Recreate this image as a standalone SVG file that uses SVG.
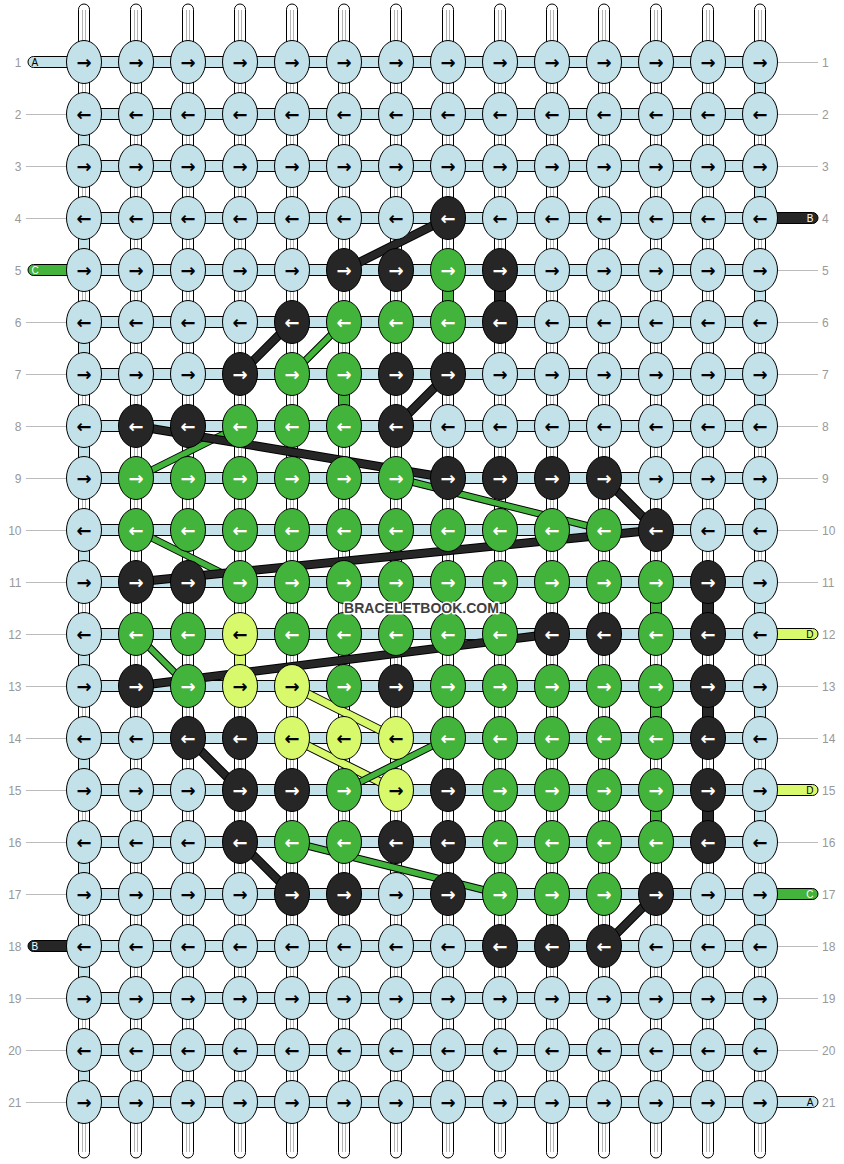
<svg xmlns="http://www.w3.org/2000/svg" width="844" height="1164" viewBox="0 0 844 1164">
<style>
.w{fill:#fff;stroke:#000;stroke-width:1}
.wl{stroke:#b4b4b4;stroke-width:1;fill:none}
.h{fill:#c3e1e8;stroke:#000;stroke-width:1}
.gl{stroke:#bbb;stroke-width:1}
.lbl{font-family:"Liberation Sans",Arial,sans-serif;font-size:12px;fill:#999}
.sl{font-family:"Liberation Sans",Arial,sans-serif;font-size:10px}
.n text{font-family:"DejaVu Sans",sans-serif;font-weight:bold;font-size:18px;text-anchor:middle;dominant-baseline:central}
.n ellipse{stroke:#000;stroke-width:1}
.L ellipse,.bL{fill:#c3e1e8}.L text{fill:#000}
.K ellipse,.bK{fill:#262626}.K text{fill:#fff}
.G ellipse,.bG{fill:#42b33b}.G text{fill:#fff}
.Y ellipse,.bY{fill:#d8f96b}.Y text{fill:#000}
.br rect{stroke:#000;stroke-width:1}
.co{fill:none;stroke-linecap:butt}
</style>
<g id="warps">
<rect class="w" x="78.5" y="4" width="11" height="1154" rx="5.5"/>
<rect class="w" x="130.5" y="4" width="11" height="1154" rx="5.5"/>
<rect class="w" x="182.5" y="4" width="11" height="1154" rx="5.5"/>
<rect class="w" x="234.5" y="4" width="11" height="1154" rx="5.5"/>
<rect class="w" x="286.5" y="4" width="11" height="1154" rx="5.5"/>
<rect class="w" x="338.5" y="4" width="11" height="1154" rx="5.5"/>
<rect class="w" x="390.5" y="4" width="11" height="1154" rx="5.5"/>
<rect class="w" x="442.5" y="4" width="11" height="1154" rx="5.5"/>
<rect class="w" x="494.5" y="4" width="11" height="1154" rx="5.5"/>
<rect class="w" x="546.5" y="4" width="11" height="1154" rx="5.5"/>
<rect class="w" x="598.5" y="4" width="11" height="1154" rx="5.5"/>
<rect class="w" x="650.5" y="4" width="11" height="1154" rx="5.5"/>
<rect class="w" x="702.5" y="4" width="11" height="1154" rx="5.5"/>
<rect class="w" x="754.5" y="4" width="11" height="1154" rx="5.5"/>
<path class="wl" d="M82.5 10V1152M85.5 10V1152M134.5 10V1152M137.5 10V1152M186.5 10V1152M189.5 10V1152M238.5 10V1152M241.5 10V1152M290.5 10V1152M293.5 10V1152M342.5 10V1152M345.5 10V1152M394.5 10V1152M397.5 10V1152M446.5 10V1152M449.5 10V1152M498.5 10V1152M501.5 10V1152M550.5 10V1152M553.5 10V1152M602.5 10V1152M605.5 10V1152M654.5 10V1152M657.5 10V1152M706.5 10V1152M709.5 10V1152M758.5 10V1152M761.5 10V1152"/>
</g>
<g id="rows">
<rect class="h" x="84" y="56.5" width="676" height="11"/>
<rect class="h" x="84" y="108.5" width="676" height="11"/>
<rect class="h" x="84" y="160.5" width="676" height="11"/>
<rect class="h" x="84" y="212.5" width="676" height="11"/>
<rect class="h" x="84" y="264.5" width="676" height="11"/>
<rect class="h" x="84" y="316.5" width="676" height="11"/>
<rect class="h" x="84" y="368.5" width="676" height="11"/>
<rect class="h" x="84" y="420.5" width="676" height="11"/>
<rect class="h" x="84" y="472.5" width="676" height="11"/>
<rect class="h" x="84" y="524.5" width="676" height="11"/>
<rect class="h" x="84" y="576.5" width="676" height="11"/>
<rect class="h" x="84" y="628.5" width="676" height="11"/>
<rect class="h" x="84" y="680.5" width="676" height="11"/>
<rect class="h" x="84" y="732.5" width="676" height="11"/>
<rect class="h" x="84" y="784.5" width="676" height="11"/>
<rect class="h" x="84" y="836.5" width="676" height="11"/>
<rect class="h" x="84" y="888.5" width="676" height="11"/>
<rect class="h" x="84" y="940.5" width="676" height="11"/>
<rect class="h" x="84" y="992.5" width="676" height="11"/>
<rect class="h" x="84" y="1044.5" width="676" height="11"/>
<rect class="h" x="84" y="1096.5" width="676" height="11"/>
</g>
<g id="labels">
<path class="gl" d="M26 114.5H66M26 166.5H66M26 218.5H66M26 322.5H66M26 374.5H66M26 426.5H66M26 478.5H66M26 530.5H66M26 582.5H66M26 634.5H66M26 686.5H66M26 738.5H66M26 790.5H66M26 842.5H66M26 894.5H66M26 998.5H66M26 1050.5H66M26 1102.5H66"/>
<path class="gl" d="M778 62.5H818M778 114.5H818M778 166.5H818M778 270.5H818M778 322.5H818M778 374.5H818M778 426.5H818M778 478.5H818M778 530.5H818M778 582.5H818M778 686.5H818M778 738.5H818M778 842.5H818M778 946.5H818M778 998.5H818M778 1050.5H818"/>
<g class="lbl" text-anchor="end">
<text x="21.5" y="66.5">1</text><text x="21.5" y="118.5">2</text><text x="21.5" y="170.5">3</text><text x="21.5" y="222.5">4</text><text x="21.5" y="274.5">5</text><text x="21.5" y="326.5">6</text><text x="21.5" y="378.5">7</text><text x="21.5" y="430.5">8</text><text x="21.5" y="482.5">9</text><text x="21.5" y="534.5">10</text><text x="21.5" y="586.5">11</text><text x="21.5" y="638.5">12</text><text x="21.5" y="690.5">13</text><text x="21.5" y="742.5">14</text><text x="21.5" y="794.5">15</text><text x="21.5" y="846.5">16</text><text x="21.5" y="898.5">17</text><text x="21.5" y="950.5">18</text><text x="21.5" y="1002.5">19</text><text x="21.5" y="1054.5">20</text><text x="21.5" y="1106.5">21</text>
</g>
<g class="lbl">
<text x="822" y="66.5">1</text><text x="822" y="118.5">2</text><text x="822" y="170.5">3</text><text x="822" y="222.5">4</text><text x="822" y="274.5">5</text><text x="822" y="326.5">6</text><text x="822" y="378.5">7</text><text x="822" y="430.5">8</text><text x="822" y="482.5">9</text><text x="822" y="534.5">10</text><text x="822" y="586.5">11</text><text x="822" y="638.5">12</text><text x="822" y="690.5">13</text><text x="822" y="742.5">14</text><text x="822" y="794.5">15</text><text x="822" y="846.5">16</text><text x="822" y="898.5">17</text><text x="822" y="950.5">18</text><text x="822" y="1002.5">19</text><text x="822" y="1054.5">20</text><text x="822" y="1106.5">21</text>
</g>
</g>
<g id="stubs">
<g id="stubA1"><path class="bL" stroke="#000" d="M68 56.5H33.5A5.5 5.5 0 0 0 33.5 67.5H68Z"/><text class="sl" x="31.5" y="65.5" fill="#000">A</text></g>
<g id="stubC1"><path class="bG" stroke="#000" d="M68 264.5H33.5A5.5 5.5 0 0 0 33.5 275.5H68Z"/><text class="sl" x="31.5" y="273.5" fill="#fff">C</text></g>
<g id="stubB2"><path class="bK" stroke="#000" d="M68 940.5H33.5A5.5 5.5 0 0 0 33.5 951.5H68Z"/><text class="sl" x="31.5" y="949.5" fill="#fff">B</text></g>
<g id="stubB1"><path class="bK" stroke="#000" d="M776 212.5H812.5A5.5 5.5 0 0 1 812.5 223.5H776Z"/><text class="sl" x="813.5" y="221.5" fill="#fff" text-anchor="end">B</text></g>
<g id="stubD1"><path class="bY" stroke="#000" d="M776 628.5H812.5A5.5 5.5 0 0 1 812.5 639.5H776Z"/><text class="sl" x="813.5" y="637.5" fill="#000" text-anchor="end">D</text></g>
<g id="stubD2"><path class="bY" stroke="#000" d="M776 784.5H812.5A5.5 5.5 0 0 1 812.5 795.5H776Z"/><text class="sl" x="813.5" y="793.5" fill="#000" text-anchor="end">D</text></g>
<g id="stubC2"><path class="bG" stroke="#000" d="M776 888.5H812.5A5.5 5.5 0 0 1 812.5 899.5H776Z"/><text class="sl" x="813.5" y="897.5" fill="#fff" text-anchor="end">C</text></g>
<g id="stubA2"><path class="bL" stroke="#000" d="M776 1096.5H812.5A5.5 5.5 0 0 1 812.5 1107.5H776Z"/><text class="sl" x="813.5" y="1105.5" fill="#000" text-anchor="end">A</text></g>
</g>
<g id="connectors">
<g class="br">
<rect class="bL" x="754.5" y="77" width="11" height="22"/><rect class="bL" x="754.5" y="181" width="11" height="22"/><rect class="bL" x="754.5" y="285" width="11" height="22"/><rect class="bL" x="754.5" y="389" width="11" height="22"/><rect class="bL" x="754.5" y="493" width="11" height="22"/><rect class="bL" x="754.5" y="597" width="11" height="22"/><rect class="bL" x="754.5" y="701" width="11" height="22"/><rect class="bL" x="754.5" y="805" width="11" height="22"/><rect class="bL" x="754.5" y="909" width="11" height="22"/><rect class="bL" x="754.5" y="1013" width="11" height="22"/>
<rect class="bL" x="78.5" y="129" width="11" height="22"/><rect class="bL" x="78.5" y="233" width="11" height="22"/><rect class="bL" x="78.5" y="337" width="11" height="22"/><rect class="bL" x="78.5" y="441" width="11" height="22"/><rect class="bL" x="78.5" y="545" width="11" height="22"/><rect class="bL" x="78.5" y="649" width="11" height="22"/><rect class="bL" x="78.5" y="753" width="11" height="22"/><rect class="bL" x="78.5" y="857" width="11" height="22"/><rect class="bL" x="78.5" y="961" width="11" height="22"/><rect class="bL" x="78.5" y="1065" width="11" height="22"/>
<rect class="bK" x="494.5" y="285" width="11" height="22"/><rect class="bK" x="702.5" y="597" width="11" height="22"/><rect class="bK" x="702.5" y="701" width="11" height="22"/><rect class="bK" x="702.5" y="805" width="11" height="22"/>
<rect class="bG" x="442.5" y="285" width="11" height="22"/><rect class="bG" x="338.5" y="389" width="11" height="22"/><rect class="bG" x="650.5" y="597" width="11" height="22"/><rect class="bG" x="650.5" y="701" width="11" height="22"/><rect class="bG" x="650.5" y="805" width="11" height="22"/>
<rect class="bY" x="234.5" y="649" width="11" height="22"/>
</g>
<path class="co" stroke="#000" stroke-width="9" d="M292 686L396 738M292 738L396 790"/>
<path class="co" stroke="#d8f96b" stroke-width="7" d="M292 686L396 738M292 738L396 790"/>
<path class="co" stroke="#000" stroke-width="7.5" d="M344 322L292 374M240 426L136 478M396 478L604 530M136 530L240 582M136 634L188 686M448 738L344 790M292 842L500 894"/>
<path class="co" stroke="#42b33b" stroke-width="5.5" d="M344 322L292 374M240 426L136 478M396 478L604 530M136 530L240 582M136 634L188 686M448 738L344 790M292 842L500 894"/>
<path class="co" stroke="#000" stroke-width="9" d="M448 218L344 270M292 322L240 374M448 374L396 426M136 426L448 478M604 478L656 530M656 530L136 582M552 634L136 686M188 738L240 790M240 842L292 894M656 894L604 946"/>
<path class="co" stroke="#262626" stroke-width="7" d="M448 218L344 270M292 322L240 374M448 374L396 426M136 426L448 478M604 478L656 530M656 530L136 582M552 634L136 686M188 738L240 790M240 842L292 894M656 894L604 946"/>
</g>
<g id="knots">
<g id="n1-1" class="n L" transform="translate(84 62)"><ellipse rx="17.5" ry="21.5"/><text>→</text></g>
<g id="n1-2" class="n L" transform="translate(136 62)"><ellipse rx="17.5" ry="21.5"/><text>→</text></g>
<g id="n1-3" class="n L" transform="translate(188 62)"><ellipse rx="17.5" ry="21.5"/><text>→</text></g>
<g id="n1-4" class="n L" transform="translate(240 62)"><ellipse rx="17.5" ry="21.5"/><text>→</text></g>
<g id="n1-5" class="n L" transform="translate(292 62)"><ellipse rx="17.5" ry="21.5"/><text>→</text></g>
<g id="n1-6" class="n L" transform="translate(344 62)"><ellipse rx="17.5" ry="21.5"/><text>→</text></g>
<g id="n1-7" class="n L" transform="translate(396 62)"><ellipse rx="17.5" ry="21.5"/><text>→</text></g>
<g id="n1-8" class="n L" transform="translate(448 62)"><ellipse rx="17.5" ry="21.5"/><text>→</text></g>
<g id="n1-9" class="n L" transform="translate(500 62)"><ellipse rx="17.5" ry="21.5"/><text>→</text></g>
<g id="n1-10" class="n L" transform="translate(552 62)"><ellipse rx="17.5" ry="21.5"/><text>→</text></g>
<g id="n1-11" class="n L" transform="translate(604 62)"><ellipse rx="17.5" ry="21.5"/><text>→</text></g>
<g id="n1-12" class="n L" transform="translate(656 62)"><ellipse rx="17.5" ry="21.5"/><text>→</text></g>
<g id="n1-13" class="n L" transform="translate(708 62)"><ellipse rx="17.5" ry="21.5"/><text>→</text></g>
<g id="n1-14" class="n L" transform="translate(760 62)"><ellipse rx="17.5" ry="21.5"/><text>→</text></g>
<g id="n2-1" class="n L" transform="translate(84 114)"><ellipse rx="17.5" ry="21.5"/><text>←</text></g>
<g id="n2-2" class="n L" transform="translate(136 114)"><ellipse rx="17.5" ry="21.5"/><text>←</text></g>
<g id="n2-3" class="n L" transform="translate(188 114)"><ellipse rx="17.5" ry="21.5"/><text>←</text></g>
<g id="n2-4" class="n L" transform="translate(240 114)"><ellipse rx="17.5" ry="21.5"/><text>←</text></g>
<g id="n2-5" class="n L" transform="translate(292 114)"><ellipse rx="17.5" ry="21.5"/><text>←</text></g>
<g id="n2-6" class="n L" transform="translate(344 114)"><ellipse rx="17.5" ry="21.5"/><text>←</text></g>
<g id="n2-7" class="n L" transform="translate(396 114)"><ellipse rx="17.5" ry="21.5"/><text>←</text></g>
<g id="n2-8" class="n L" transform="translate(448 114)"><ellipse rx="17.5" ry="21.5"/><text>←</text></g>
<g id="n2-9" class="n L" transform="translate(500 114)"><ellipse rx="17.5" ry="21.5"/><text>←</text></g>
<g id="n2-10" class="n L" transform="translate(552 114)"><ellipse rx="17.5" ry="21.5"/><text>←</text></g>
<g id="n2-11" class="n L" transform="translate(604 114)"><ellipse rx="17.5" ry="21.5"/><text>←</text></g>
<g id="n2-12" class="n L" transform="translate(656 114)"><ellipse rx="17.5" ry="21.5"/><text>←</text></g>
<g id="n2-13" class="n L" transform="translate(708 114)"><ellipse rx="17.5" ry="21.5"/><text>←</text></g>
<g id="n2-14" class="n L" transform="translate(760 114)"><ellipse rx="17.5" ry="21.5"/><text>←</text></g>
<g id="n3-1" class="n L" transform="translate(84 166)"><ellipse rx="17.5" ry="21.5"/><text>→</text></g>
<g id="n3-2" class="n L" transform="translate(136 166)"><ellipse rx="17.5" ry="21.5"/><text>→</text></g>
<g id="n3-3" class="n L" transform="translate(188 166)"><ellipse rx="17.5" ry="21.5"/><text>→</text></g>
<g id="n3-4" class="n L" transform="translate(240 166)"><ellipse rx="17.5" ry="21.5"/><text>→</text></g>
<g id="n3-5" class="n L" transform="translate(292 166)"><ellipse rx="17.5" ry="21.5"/><text>→</text></g>
<g id="n3-6" class="n L" transform="translate(344 166)"><ellipse rx="17.5" ry="21.5"/><text>→</text></g>
<g id="n3-7" class="n L" transform="translate(396 166)"><ellipse rx="17.5" ry="21.5"/><text>→</text></g>
<g id="n3-8" class="n L" transform="translate(448 166)"><ellipse rx="17.5" ry="21.5"/><text>→</text></g>
<g id="n3-9" class="n L" transform="translate(500 166)"><ellipse rx="17.5" ry="21.5"/><text>→</text></g>
<g id="n3-10" class="n L" transform="translate(552 166)"><ellipse rx="17.5" ry="21.5"/><text>→</text></g>
<g id="n3-11" class="n L" transform="translate(604 166)"><ellipse rx="17.5" ry="21.5"/><text>→</text></g>
<g id="n3-12" class="n L" transform="translate(656 166)"><ellipse rx="17.5" ry="21.5"/><text>→</text></g>
<g id="n3-13" class="n L" transform="translate(708 166)"><ellipse rx="17.5" ry="21.5"/><text>→</text></g>
<g id="n3-14" class="n L" transform="translate(760 166)"><ellipse rx="17.5" ry="21.5"/><text>→</text></g>
<g id="n4-1" class="n L" transform="translate(84 218)"><ellipse rx="17.5" ry="21.5"/><text>←</text></g>
<g id="n4-2" class="n L" transform="translate(136 218)"><ellipse rx="17.5" ry="21.5"/><text>←</text></g>
<g id="n4-3" class="n L" transform="translate(188 218)"><ellipse rx="17.5" ry="21.5"/><text>←</text></g>
<g id="n4-4" class="n L" transform="translate(240 218)"><ellipse rx="17.5" ry="21.5"/><text>←</text></g>
<g id="n4-5" class="n L" transform="translate(292 218)"><ellipse rx="17.5" ry="21.5"/><text>←</text></g>
<g id="n4-6" class="n L" transform="translate(344 218)"><ellipse rx="17.5" ry="21.5"/><text>←</text></g>
<g id="n4-7" class="n L" transform="translate(396 218)"><ellipse rx="17.5" ry="21.5"/><text>←</text></g>
<g id="n4-8" class="n K" transform="translate(448 218)"><ellipse rx="17.5" ry="21.5"/><text>←</text></g>
<g id="n4-9" class="n L" transform="translate(500 218)"><ellipse rx="17.5" ry="21.5"/><text>←</text></g>
<g id="n4-10" class="n L" transform="translate(552 218)"><ellipse rx="17.5" ry="21.5"/><text>←</text></g>
<g id="n4-11" class="n L" transform="translate(604 218)"><ellipse rx="17.5" ry="21.5"/><text>←</text></g>
<g id="n4-12" class="n L" transform="translate(656 218)"><ellipse rx="17.5" ry="21.5"/><text>←</text></g>
<g id="n4-13" class="n L" transform="translate(708 218)"><ellipse rx="17.5" ry="21.5"/><text>←</text></g>
<g id="n4-14" class="n L" transform="translate(760 218)"><ellipse rx="17.5" ry="21.5"/><text>←</text></g>
<g id="n5-1" class="n L" transform="translate(84 270)"><ellipse rx="17.5" ry="21.5"/><text>→</text></g>
<g id="n5-2" class="n L" transform="translate(136 270)"><ellipse rx="17.5" ry="21.5"/><text>→</text></g>
<g id="n5-3" class="n L" transform="translate(188 270)"><ellipse rx="17.5" ry="21.5"/><text>→</text></g>
<g id="n5-4" class="n L" transform="translate(240 270)"><ellipse rx="17.5" ry="21.5"/><text>→</text></g>
<g id="n5-5" class="n L" transform="translate(292 270)"><ellipse rx="17.5" ry="21.5"/><text>→</text></g>
<g id="n5-6" class="n K" transform="translate(344 270)"><ellipse rx="17.5" ry="21.5"/><text>→</text></g>
<g id="n5-7" class="n K" transform="translate(396 270)"><ellipse rx="17.5" ry="21.5"/><text>→</text></g>
<g id="n5-8" class="n G" transform="translate(448 270)"><ellipse rx="17.5" ry="21.5"/><text>→</text></g>
<g id="n5-9" class="n K" transform="translate(500 270)"><ellipse rx="17.5" ry="21.5"/><text>→</text></g>
<g id="n5-10" class="n L" transform="translate(552 270)"><ellipse rx="17.5" ry="21.5"/><text>→</text></g>
<g id="n5-11" class="n L" transform="translate(604 270)"><ellipse rx="17.5" ry="21.5"/><text>→</text></g>
<g id="n5-12" class="n L" transform="translate(656 270)"><ellipse rx="17.5" ry="21.5"/><text>→</text></g>
<g id="n5-13" class="n L" transform="translate(708 270)"><ellipse rx="17.5" ry="21.5"/><text>→</text></g>
<g id="n5-14" class="n L" transform="translate(760 270)"><ellipse rx="17.5" ry="21.5"/><text>→</text></g>
<g id="n6-1" class="n L" transform="translate(84 322)"><ellipse rx="17.5" ry="21.5"/><text>←</text></g>
<g id="n6-2" class="n L" transform="translate(136 322)"><ellipse rx="17.5" ry="21.5"/><text>←</text></g>
<g id="n6-3" class="n L" transform="translate(188 322)"><ellipse rx="17.5" ry="21.5"/><text>←</text></g>
<g id="n6-4" class="n L" transform="translate(240 322)"><ellipse rx="17.5" ry="21.5"/><text>←</text></g>
<g id="n6-5" class="n K" transform="translate(292 322)"><ellipse rx="17.5" ry="21.5"/><text>←</text></g>
<g id="n6-6" class="n G" transform="translate(344 322)"><ellipse rx="17.5" ry="21.5"/><text>←</text></g>
<g id="n6-7" class="n G" transform="translate(396 322)"><ellipse rx="17.5" ry="21.5"/><text>←</text></g>
<g id="n6-8" class="n G" transform="translate(448 322)"><ellipse rx="17.5" ry="21.5"/><text>←</text></g>
<g id="n6-9" class="n K" transform="translate(500 322)"><ellipse rx="17.5" ry="21.5"/><text>←</text></g>
<g id="n6-10" class="n L" transform="translate(552 322)"><ellipse rx="17.5" ry="21.5"/><text>←</text></g>
<g id="n6-11" class="n L" transform="translate(604 322)"><ellipse rx="17.5" ry="21.5"/><text>←</text></g>
<g id="n6-12" class="n L" transform="translate(656 322)"><ellipse rx="17.5" ry="21.5"/><text>←</text></g>
<g id="n6-13" class="n L" transform="translate(708 322)"><ellipse rx="17.5" ry="21.5"/><text>←</text></g>
<g id="n6-14" class="n L" transform="translate(760 322)"><ellipse rx="17.5" ry="21.5"/><text>←</text></g>
<g id="n7-1" class="n L" transform="translate(84 374)"><ellipse rx="17.5" ry="21.5"/><text>→</text></g>
<g id="n7-2" class="n L" transform="translate(136 374)"><ellipse rx="17.5" ry="21.5"/><text>→</text></g>
<g id="n7-3" class="n L" transform="translate(188 374)"><ellipse rx="17.5" ry="21.5"/><text>→</text></g>
<g id="n7-4" class="n K" transform="translate(240 374)"><ellipse rx="17.5" ry="21.5"/><text>→</text></g>
<g id="n7-5" class="n G" transform="translate(292 374)"><ellipse rx="17.5" ry="21.5"/><text>→</text></g>
<g id="n7-6" class="n G" transform="translate(344 374)"><ellipse rx="17.5" ry="21.5"/><text>→</text></g>
<g id="n7-7" class="n K" transform="translate(396 374)"><ellipse rx="17.5" ry="21.5"/><text>→</text></g>
<g id="n7-8" class="n K" transform="translate(448 374)"><ellipse rx="17.5" ry="21.5"/><text>→</text></g>
<g id="n7-9" class="n L" transform="translate(500 374)"><ellipse rx="17.5" ry="21.5"/><text>→</text></g>
<g id="n7-10" class="n L" transform="translate(552 374)"><ellipse rx="17.5" ry="21.5"/><text>→</text></g>
<g id="n7-11" class="n L" transform="translate(604 374)"><ellipse rx="17.5" ry="21.5"/><text>→</text></g>
<g id="n7-12" class="n L" transform="translate(656 374)"><ellipse rx="17.5" ry="21.5"/><text>→</text></g>
<g id="n7-13" class="n L" transform="translate(708 374)"><ellipse rx="17.5" ry="21.5"/><text>→</text></g>
<g id="n7-14" class="n L" transform="translate(760 374)"><ellipse rx="17.5" ry="21.5"/><text>→</text></g>
<g id="n8-1" class="n L" transform="translate(84 426)"><ellipse rx="17.5" ry="21.5"/><text>←</text></g>
<g id="n8-2" class="n K" transform="translate(136 426)"><ellipse rx="17.5" ry="21.5"/><text>←</text></g>
<g id="n8-3" class="n K" transform="translate(188 426)"><ellipse rx="17.5" ry="21.5"/><text>←</text></g>
<g id="n8-4" class="n G" transform="translate(240 426)"><ellipse rx="17.5" ry="21.5"/><text>←</text></g>
<g id="n8-5" class="n G" transform="translate(292 426)"><ellipse rx="17.5" ry="21.5"/><text>←</text></g>
<g id="n8-6" class="n G" transform="translate(344 426)"><ellipse rx="17.5" ry="21.5"/><text>←</text></g>
<g id="n8-7" class="n K" transform="translate(396 426)"><ellipse rx="17.5" ry="21.5"/><text>←</text></g>
<g id="n8-8" class="n L" transform="translate(448 426)"><ellipse rx="17.5" ry="21.5"/><text>←</text></g>
<g id="n8-9" class="n L" transform="translate(500 426)"><ellipse rx="17.5" ry="21.5"/><text>←</text></g>
<g id="n8-10" class="n L" transform="translate(552 426)"><ellipse rx="17.5" ry="21.5"/><text>←</text></g>
<g id="n8-11" class="n L" transform="translate(604 426)"><ellipse rx="17.5" ry="21.5"/><text>←</text></g>
<g id="n8-12" class="n L" transform="translate(656 426)"><ellipse rx="17.5" ry="21.5"/><text>←</text></g>
<g id="n8-13" class="n L" transform="translate(708 426)"><ellipse rx="17.5" ry="21.5"/><text>←</text></g>
<g id="n8-14" class="n L" transform="translate(760 426)"><ellipse rx="17.5" ry="21.5"/><text>←</text></g>
<g id="n9-1" class="n L" transform="translate(84 478)"><ellipse rx="17.5" ry="21.5"/><text>→</text></g>
<g id="n9-2" class="n G" transform="translate(136 478)"><ellipse rx="17.5" ry="21.5"/><text>→</text></g>
<g id="n9-3" class="n G" transform="translate(188 478)"><ellipse rx="17.5" ry="21.5"/><text>→</text></g>
<g id="n9-4" class="n G" transform="translate(240 478)"><ellipse rx="17.5" ry="21.5"/><text>→</text></g>
<g id="n9-5" class="n G" transform="translate(292 478)"><ellipse rx="17.5" ry="21.5"/><text>→</text></g>
<g id="n9-6" class="n G" transform="translate(344 478)"><ellipse rx="17.5" ry="21.5"/><text>→</text></g>
<g id="n9-7" class="n G" transform="translate(396 478)"><ellipse rx="17.5" ry="21.5"/><text>→</text></g>
<g id="n9-8" class="n K" transform="translate(448 478)"><ellipse rx="17.5" ry="21.5"/><text>→</text></g>
<g id="n9-9" class="n K" transform="translate(500 478)"><ellipse rx="17.5" ry="21.5"/><text>→</text></g>
<g id="n9-10" class="n K" transform="translate(552 478)"><ellipse rx="17.5" ry="21.5"/><text>→</text></g>
<g id="n9-11" class="n K" transform="translate(604 478)"><ellipse rx="17.5" ry="21.5"/><text>→</text></g>
<g id="n9-12" class="n L" transform="translate(656 478)"><ellipse rx="17.5" ry="21.5"/><text>→</text></g>
<g id="n9-13" class="n L" transform="translate(708 478)"><ellipse rx="17.5" ry="21.5"/><text>→</text></g>
<g id="n9-14" class="n L" transform="translate(760 478)"><ellipse rx="17.5" ry="21.5"/><text>→</text></g>
<g id="n10-1" class="n L" transform="translate(84 530)"><ellipse rx="17.5" ry="21.5"/><text>←</text></g>
<g id="n10-2" class="n G" transform="translate(136 530)"><ellipse rx="17.5" ry="21.5"/><text>←</text></g>
<g id="n10-3" class="n G" transform="translate(188 530)"><ellipse rx="17.5" ry="21.5"/><text>←</text></g>
<g id="n10-4" class="n G" transform="translate(240 530)"><ellipse rx="17.5" ry="21.5"/><text>←</text></g>
<g id="n10-5" class="n G" transform="translate(292 530)"><ellipse rx="17.5" ry="21.5"/><text>←</text></g>
<g id="n10-6" class="n G" transform="translate(344 530)"><ellipse rx="17.5" ry="21.5"/><text>←</text></g>
<g id="n10-7" class="n G" transform="translate(396 530)"><ellipse rx="17.5" ry="21.5"/><text>←</text></g>
<g id="n10-8" class="n G" transform="translate(448 530)"><ellipse rx="17.5" ry="21.5"/><text>←</text></g>
<g id="n10-9" class="n G" transform="translate(500 530)"><ellipse rx="17.5" ry="21.5"/><text>←</text></g>
<g id="n10-10" class="n G" transform="translate(552 530)"><ellipse rx="17.5" ry="21.5"/><text>←</text></g>
<g id="n10-11" class="n G" transform="translate(604 530)"><ellipse rx="17.5" ry="21.5"/><text>←</text></g>
<g id="n10-12" class="n K" transform="translate(656 530)"><ellipse rx="17.5" ry="21.5"/><text>←</text></g>
<g id="n10-13" class="n L" transform="translate(708 530)"><ellipse rx="17.5" ry="21.5"/><text>←</text></g>
<g id="n10-14" class="n L" transform="translate(760 530)"><ellipse rx="17.5" ry="21.5"/><text>←</text></g>
<g id="n11-1" class="n L" transform="translate(84 582)"><ellipse rx="17.5" ry="21.5"/><text>→</text></g>
<g id="n11-2" class="n K" transform="translate(136 582)"><ellipse rx="17.5" ry="21.5"/><text>→</text></g>
<g id="n11-3" class="n K" transform="translate(188 582)"><ellipse rx="17.5" ry="21.5"/><text>→</text></g>
<g id="n11-4" class="n G" transform="translate(240 582)"><ellipse rx="17.5" ry="21.5"/><text>→</text></g>
<g id="n11-5" class="n G" transform="translate(292 582)"><ellipse rx="17.5" ry="21.5"/><text>→</text></g>
<g id="n11-6" class="n G" transform="translate(344 582)"><ellipse rx="17.5" ry="21.5"/><text>→</text></g>
<g id="n11-7" class="n G" transform="translate(396 582)"><ellipse rx="17.5" ry="21.5"/><text>→</text></g>
<g id="n11-8" class="n G" transform="translate(448 582)"><ellipse rx="17.5" ry="21.5"/><text>→</text></g>
<g id="n11-9" class="n G" transform="translate(500 582)"><ellipse rx="17.5" ry="21.5"/><text>→</text></g>
<g id="n11-10" class="n G" transform="translate(552 582)"><ellipse rx="17.5" ry="21.5"/><text>→</text></g>
<g id="n11-11" class="n G" transform="translate(604 582)"><ellipse rx="17.5" ry="21.5"/><text>→</text></g>
<g id="n11-12" class="n G" transform="translate(656 582)"><ellipse rx="17.5" ry="21.5"/><text>→</text></g>
<g id="n11-13" class="n K" transform="translate(708 582)"><ellipse rx="17.5" ry="21.5"/><text>→</text></g>
<g id="n11-14" class="n L" transform="translate(760 582)"><ellipse rx="17.5" ry="21.5"/><text>→</text></g>
<g id="n12-1" class="n L" transform="translate(84 634)"><ellipse rx="17.5" ry="21.5"/><text>←</text></g>
<g id="n12-2" class="n G" transform="translate(136 634)"><ellipse rx="17.5" ry="21.5"/><text>←</text></g>
<g id="n12-3" class="n G" transform="translate(188 634)"><ellipse rx="17.5" ry="21.5"/><text>←</text></g>
<g id="n12-4" class="n Y" transform="translate(240 634)"><ellipse rx="17.5" ry="21.5"/><text>←</text></g>
<g id="n12-5" class="n G" transform="translate(292 634)"><ellipse rx="17.5" ry="21.5"/><text>←</text></g>
<g id="n12-6" class="n G" transform="translate(344 634)"><ellipse rx="17.5" ry="21.5"/><text>←</text></g>
<g id="n12-7" class="n G" transform="translate(396 634)"><ellipse rx="17.5" ry="21.5"/><text>←</text></g>
<g id="n12-8" class="n G" transform="translate(448 634)"><ellipse rx="17.5" ry="21.5"/><text>←</text></g>
<g id="n12-9" class="n G" transform="translate(500 634)"><ellipse rx="17.5" ry="21.5"/><text>←</text></g>
<g id="n12-10" class="n K" transform="translate(552 634)"><ellipse rx="17.5" ry="21.5"/><text>←</text></g>
<g id="n12-11" class="n K" transform="translate(604 634)"><ellipse rx="17.5" ry="21.5"/><text>←</text></g>
<g id="n12-12" class="n G" transform="translate(656 634)"><ellipse rx="17.5" ry="21.5"/><text>←</text></g>
<g id="n12-13" class="n K" transform="translate(708 634)"><ellipse rx="17.5" ry="21.5"/><text>←</text></g>
<g id="n12-14" class="n L" transform="translate(760 634)"><ellipse rx="17.5" ry="21.5"/><text>←</text></g>
<g id="n13-1" class="n L" transform="translate(84 686)"><ellipse rx="17.5" ry="21.5"/><text>→</text></g>
<g id="n13-2" class="n K" transform="translate(136 686)"><ellipse rx="17.5" ry="21.5"/><text>→</text></g>
<g id="n13-3" class="n G" transform="translate(188 686)"><ellipse rx="17.5" ry="21.5"/><text>→</text></g>
<g id="n13-4" class="n Y" transform="translate(240 686)"><ellipse rx="17.5" ry="21.5"/><text>→</text></g>
<g id="n13-5" class="n Y" transform="translate(292 686)"><ellipse rx="17.5" ry="21.5"/><text>→</text></g>
<g id="n13-6" class="n G" transform="translate(344 686)"><ellipse rx="17.5" ry="21.5"/><text>→</text></g>
<g id="n13-7" class="n K" transform="translate(396 686)"><ellipse rx="17.5" ry="21.5"/><text>→</text></g>
<g id="n13-8" class="n G" transform="translate(448 686)"><ellipse rx="17.5" ry="21.5"/><text>→</text></g>
<g id="n13-9" class="n G" transform="translate(500 686)"><ellipse rx="17.5" ry="21.5"/><text>→</text></g>
<g id="n13-10" class="n G" transform="translate(552 686)"><ellipse rx="17.5" ry="21.5"/><text>→</text></g>
<g id="n13-11" class="n G" transform="translate(604 686)"><ellipse rx="17.5" ry="21.5"/><text>→</text></g>
<g id="n13-12" class="n G" transform="translate(656 686)"><ellipse rx="17.5" ry="21.5"/><text>→</text></g>
<g id="n13-13" class="n K" transform="translate(708 686)"><ellipse rx="17.5" ry="21.5"/><text>→</text></g>
<g id="n13-14" class="n L" transform="translate(760 686)"><ellipse rx="17.5" ry="21.5"/><text>→</text></g>
<g id="n14-1" class="n L" transform="translate(84 738)"><ellipse rx="17.5" ry="21.5"/><text>←</text></g>
<g id="n14-2" class="n L" transform="translate(136 738)"><ellipse rx="17.5" ry="21.5"/><text>←</text></g>
<g id="n14-3" class="n K" transform="translate(188 738)"><ellipse rx="17.5" ry="21.5"/><text>←</text></g>
<g id="n14-4" class="n K" transform="translate(240 738)"><ellipse rx="17.5" ry="21.5"/><text>←</text></g>
<g id="n14-5" class="n Y" transform="translate(292 738)"><ellipse rx="17.5" ry="21.5"/><text>←</text></g>
<g id="n14-6" class="n Y" transform="translate(344 738)"><ellipse rx="17.5" ry="21.5"/><text>←</text></g>
<g id="n14-7" class="n Y" transform="translate(396 738)"><ellipse rx="17.5" ry="21.5"/><text>←</text></g>
<g id="n14-8" class="n G" transform="translate(448 738)"><ellipse rx="17.5" ry="21.5"/><text>←</text></g>
<g id="n14-9" class="n G" transform="translate(500 738)"><ellipse rx="17.5" ry="21.5"/><text>←</text></g>
<g id="n14-10" class="n G" transform="translate(552 738)"><ellipse rx="17.5" ry="21.5"/><text>←</text></g>
<g id="n14-11" class="n G" transform="translate(604 738)"><ellipse rx="17.5" ry="21.5"/><text>←</text></g>
<g id="n14-12" class="n G" transform="translate(656 738)"><ellipse rx="17.5" ry="21.5"/><text>←</text></g>
<g id="n14-13" class="n K" transform="translate(708 738)"><ellipse rx="17.5" ry="21.5"/><text>←</text></g>
<g id="n14-14" class="n L" transform="translate(760 738)"><ellipse rx="17.5" ry="21.5"/><text>←</text></g>
<g id="n15-1" class="n L" transform="translate(84 790)"><ellipse rx="17.5" ry="21.5"/><text>→</text></g>
<g id="n15-2" class="n L" transform="translate(136 790)"><ellipse rx="17.5" ry="21.5"/><text>→</text></g>
<g id="n15-3" class="n L" transform="translate(188 790)"><ellipse rx="17.5" ry="21.5"/><text>→</text></g>
<g id="n15-4" class="n K" transform="translate(240 790)"><ellipse rx="17.5" ry="21.5"/><text>→</text></g>
<g id="n15-5" class="n K" transform="translate(292 790)"><ellipse rx="17.5" ry="21.5"/><text>→</text></g>
<g id="n15-6" class="n G" transform="translate(344 790)"><ellipse rx="17.5" ry="21.5"/><text>→</text></g>
<g id="n15-7" class="n Y" transform="translate(396 790)"><ellipse rx="17.5" ry="21.5"/><text>→</text></g>
<g id="n15-8" class="n K" transform="translate(448 790)"><ellipse rx="17.5" ry="21.5"/><text>→</text></g>
<g id="n15-9" class="n G" transform="translate(500 790)"><ellipse rx="17.5" ry="21.5"/><text>→</text></g>
<g id="n15-10" class="n G" transform="translate(552 790)"><ellipse rx="17.5" ry="21.5"/><text>→</text></g>
<g id="n15-11" class="n G" transform="translate(604 790)"><ellipse rx="17.5" ry="21.5"/><text>→</text></g>
<g id="n15-12" class="n G" transform="translate(656 790)"><ellipse rx="17.5" ry="21.5"/><text>→</text></g>
<g id="n15-13" class="n K" transform="translate(708 790)"><ellipse rx="17.5" ry="21.5"/><text>→</text></g>
<g id="n15-14" class="n L" transform="translate(760 790)"><ellipse rx="17.5" ry="21.5"/><text>→</text></g>
<g id="n16-1" class="n L" transform="translate(84 842)"><ellipse rx="17.5" ry="21.5"/><text>←</text></g>
<g id="n16-2" class="n L" transform="translate(136 842)"><ellipse rx="17.5" ry="21.5"/><text>←</text></g>
<g id="n16-3" class="n L" transform="translate(188 842)"><ellipse rx="17.5" ry="21.5"/><text>←</text></g>
<g id="n16-4" class="n K" transform="translate(240 842)"><ellipse rx="17.5" ry="21.5"/><text>←</text></g>
<g id="n16-5" class="n G" transform="translate(292 842)"><ellipse rx="17.5" ry="21.5"/><text>←</text></g>
<g id="n16-6" class="n G" transform="translate(344 842)"><ellipse rx="17.5" ry="21.5"/><text>←</text></g>
<g id="n16-7" class="n K" transform="translate(396 842)"><ellipse rx="17.5" ry="21.5"/><text>←</text></g>
<g id="n16-8" class="n K" transform="translate(448 842)"><ellipse rx="17.5" ry="21.5"/><text>←</text></g>
<g id="n16-9" class="n G" transform="translate(500 842)"><ellipse rx="17.5" ry="21.5"/><text>←</text></g>
<g id="n16-10" class="n G" transform="translate(552 842)"><ellipse rx="17.5" ry="21.5"/><text>←</text></g>
<g id="n16-11" class="n G" transform="translate(604 842)"><ellipse rx="17.5" ry="21.5"/><text>←</text></g>
<g id="n16-12" class="n G" transform="translate(656 842)"><ellipse rx="17.5" ry="21.5"/><text>←</text></g>
<g id="n16-13" class="n K" transform="translate(708 842)"><ellipse rx="17.5" ry="21.5"/><text>←</text></g>
<g id="n16-14" class="n L" transform="translate(760 842)"><ellipse rx="17.5" ry="21.5"/><text>←</text></g>
<g id="n17-1" class="n L" transform="translate(84 894)"><ellipse rx="17.5" ry="21.5"/><text>→</text></g>
<g id="n17-2" class="n L" transform="translate(136 894)"><ellipse rx="17.5" ry="21.5"/><text>→</text></g>
<g id="n17-3" class="n L" transform="translate(188 894)"><ellipse rx="17.5" ry="21.5"/><text>→</text></g>
<g id="n17-4" class="n L" transform="translate(240 894)"><ellipse rx="17.5" ry="21.5"/><text>→</text></g>
<g id="n17-5" class="n K" transform="translate(292 894)"><ellipse rx="17.5" ry="21.5"/><text>→</text></g>
<g id="n17-6" class="n K" transform="translate(344 894)"><ellipse rx="17.5" ry="21.5"/><text>→</text></g>
<g id="n17-7" class="n L" transform="translate(396 894)"><ellipse rx="17.5" ry="21.5"/><text>→</text></g>
<g id="n17-8" class="n K" transform="translate(448 894)"><ellipse rx="17.5" ry="21.5"/><text>→</text></g>
<g id="n17-9" class="n G" transform="translate(500 894)"><ellipse rx="17.5" ry="21.5"/><text>→</text></g>
<g id="n17-10" class="n G" transform="translate(552 894)"><ellipse rx="17.5" ry="21.5"/><text>→</text></g>
<g id="n17-11" class="n G" transform="translate(604 894)"><ellipse rx="17.5" ry="21.5"/><text>→</text></g>
<g id="n17-12" class="n K" transform="translate(656 894)"><ellipse rx="17.5" ry="21.5"/><text>→</text></g>
<g id="n17-13" class="n L" transform="translate(708 894)"><ellipse rx="17.5" ry="21.5"/><text>→</text></g>
<g id="n17-14" class="n L" transform="translate(760 894)"><ellipse rx="17.5" ry="21.5"/><text>→</text></g>
<g id="n18-1" class="n L" transform="translate(84 946)"><ellipse rx="17.5" ry="21.5"/><text>←</text></g>
<g id="n18-2" class="n L" transform="translate(136 946)"><ellipse rx="17.5" ry="21.5"/><text>←</text></g>
<g id="n18-3" class="n L" transform="translate(188 946)"><ellipse rx="17.5" ry="21.5"/><text>←</text></g>
<g id="n18-4" class="n L" transform="translate(240 946)"><ellipse rx="17.5" ry="21.5"/><text>←</text></g>
<g id="n18-5" class="n L" transform="translate(292 946)"><ellipse rx="17.5" ry="21.5"/><text>←</text></g>
<g id="n18-6" class="n L" transform="translate(344 946)"><ellipse rx="17.5" ry="21.5"/><text>←</text></g>
<g id="n18-7" class="n L" transform="translate(396 946)"><ellipse rx="17.5" ry="21.5"/><text>←</text></g>
<g id="n18-8" class="n L" transform="translate(448 946)"><ellipse rx="17.5" ry="21.5"/><text>←</text></g>
<g id="n18-9" class="n K" transform="translate(500 946)"><ellipse rx="17.5" ry="21.5"/><text>←</text></g>
<g id="n18-10" class="n K" transform="translate(552 946)"><ellipse rx="17.5" ry="21.5"/><text>←</text></g>
<g id="n18-11" class="n K" transform="translate(604 946)"><ellipse rx="17.5" ry="21.5"/><text>←</text></g>
<g id="n18-12" class="n L" transform="translate(656 946)"><ellipse rx="17.5" ry="21.5"/><text>←</text></g>
<g id="n18-13" class="n L" transform="translate(708 946)"><ellipse rx="17.5" ry="21.5"/><text>←</text></g>
<g id="n18-14" class="n L" transform="translate(760 946)"><ellipse rx="17.5" ry="21.5"/><text>←</text></g>
<g id="n19-1" class="n L" transform="translate(84 998)"><ellipse rx="17.5" ry="21.5"/><text>→</text></g>
<g id="n19-2" class="n L" transform="translate(136 998)"><ellipse rx="17.5" ry="21.5"/><text>→</text></g>
<g id="n19-3" class="n L" transform="translate(188 998)"><ellipse rx="17.5" ry="21.5"/><text>→</text></g>
<g id="n19-4" class="n L" transform="translate(240 998)"><ellipse rx="17.5" ry="21.5"/><text>→</text></g>
<g id="n19-5" class="n L" transform="translate(292 998)"><ellipse rx="17.5" ry="21.5"/><text>→</text></g>
<g id="n19-6" class="n L" transform="translate(344 998)"><ellipse rx="17.5" ry="21.5"/><text>→</text></g>
<g id="n19-7" class="n L" transform="translate(396 998)"><ellipse rx="17.5" ry="21.5"/><text>→</text></g>
<g id="n19-8" class="n L" transform="translate(448 998)"><ellipse rx="17.5" ry="21.5"/><text>→</text></g>
<g id="n19-9" class="n L" transform="translate(500 998)"><ellipse rx="17.5" ry="21.5"/><text>→</text></g>
<g id="n19-10" class="n L" transform="translate(552 998)"><ellipse rx="17.5" ry="21.5"/><text>→</text></g>
<g id="n19-11" class="n L" transform="translate(604 998)"><ellipse rx="17.5" ry="21.5"/><text>→</text></g>
<g id="n19-12" class="n L" transform="translate(656 998)"><ellipse rx="17.5" ry="21.5"/><text>→</text></g>
<g id="n19-13" class="n L" transform="translate(708 998)"><ellipse rx="17.5" ry="21.5"/><text>→</text></g>
<g id="n19-14" class="n L" transform="translate(760 998)"><ellipse rx="17.5" ry="21.5"/><text>→</text></g>
<g id="n20-1" class="n L" transform="translate(84 1050)"><ellipse rx="17.5" ry="21.5"/><text>←</text></g>
<g id="n20-2" class="n L" transform="translate(136 1050)"><ellipse rx="17.5" ry="21.5"/><text>←</text></g>
<g id="n20-3" class="n L" transform="translate(188 1050)"><ellipse rx="17.5" ry="21.5"/><text>←</text></g>
<g id="n20-4" class="n L" transform="translate(240 1050)"><ellipse rx="17.5" ry="21.5"/><text>←</text></g>
<g id="n20-5" class="n L" transform="translate(292 1050)"><ellipse rx="17.5" ry="21.5"/><text>←</text></g>
<g id="n20-6" class="n L" transform="translate(344 1050)"><ellipse rx="17.5" ry="21.5"/><text>←</text></g>
<g id="n20-7" class="n L" transform="translate(396 1050)"><ellipse rx="17.5" ry="21.5"/><text>←</text></g>
<g id="n20-8" class="n L" transform="translate(448 1050)"><ellipse rx="17.5" ry="21.5"/><text>←</text></g>
<g id="n20-9" class="n L" transform="translate(500 1050)"><ellipse rx="17.5" ry="21.5"/><text>←</text></g>
<g id="n20-10" class="n L" transform="translate(552 1050)"><ellipse rx="17.5" ry="21.5"/><text>←</text></g>
<g id="n20-11" class="n L" transform="translate(604 1050)"><ellipse rx="17.5" ry="21.5"/><text>←</text></g>
<g id="n20-12" class="n L" transform="translate(656 1050)"><ellipse rx="17.5" ry="21.5"/><text>←</text></g>
<g id="n20-13" class="n L" transform="translate(708 1050)"><ellipse rx="17.5" ry="21.5"/><text>←</text></g>
<g id="n20-14" class="n L" transform="translate(760 1050)"><ellipse rx="17.5" ry="21.5"/><text>←</text></g>
<g id="n21-1" class="n L" transform="translate(84 1102)"><ellipse rx="17.5" ry="21.5"/><text>→</text></g>
<g id="n21-2" class="n L" transform="translate(136 1102)"><ellipse rx="17.5" ry="21.5"/><text>→</text></g>
<g id="n21-3" class="n L" transform="translate(188 1102)"><ellipse rx="17.5" ry="21.5"/><text>→</text></g>
<g id="n21-4" class="n L" transform="translate(240 1102)"><ellipse rx="17.5" ry="21.5"/><text>→</text></g>
<g id="n21-5" class="n L" transform="translate(292 1102)"><ellipse rx="17.5" ry="21.5"/><text>→</text></g>
<g id="n21-6" class="n L" transform="translate(344 1102)"><ellipse rx="17.5" ry="21.5"/><text>→</text></g>
<g id="n21-7" class="n L" transform="translate(396 1102)"><ellipse rx="17.5" ry="21.5"/><text>→</text></g>
<g id="n21-8" class="n L" transform="translate(448 1102)"><ellipse rx="17.5" ry="21.5"/><text>→</text></g>
<g id="n21-9" class="n L" transform="translate(500 1102)"><ellipse rx="17.5" ry="21.5"/><text>→</text></g>
<g id="n21-10" class="n L" transform="translate(552 1102)"><ellipse rx="17.5" ry="21.5"/><text>→</text></g>
<g id="n21-11" class="n L" transform="translate(604 1102)"><ellipse rx="17.5" ry="21.5"/><text>→</text></g>
<g id="n21-12" class="n L" transform="translate(656 1102)"><ellipse rx="17.5" ry="21.5"/><text>→</text></g>
<g id="n21-13" class="n L" transform="translate(708 1102)"><ellipse rx="17.5" ry="21.5"/><text>→</text></g>
<g id="n21-14" class="n L" transform="translate(760 1102)"><ellipse rx="17.5" ry="21.5"/><text>→</text></g>
</g>
<text id="watermark" x="421.5" y="612.5" text-anchor="middle" font-family="Liberation Sans,Arial,sans-serif" font-weight="bold" font-size="14" fill="#3e3e3e" stroke="#fff" stroke-width="3" paint-order="stroke" stroke-linejoin="round">BRACELETBOOK.COM</text>
</svg>
